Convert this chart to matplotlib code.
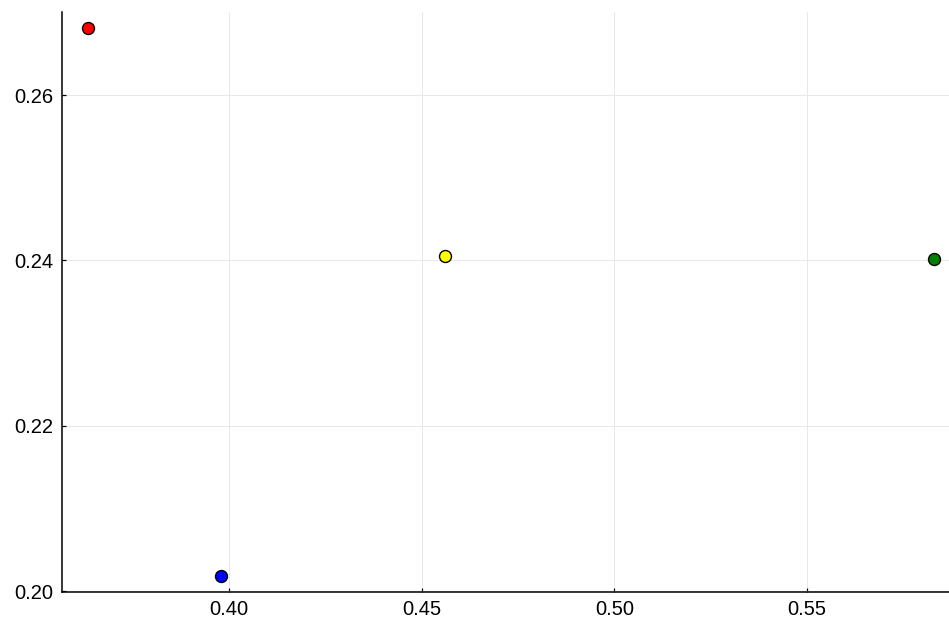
import matplotlib
matplotlib.use('Agg')
import matplotlib.pyplot as plt

# four points, one colour each
xs = [0.3633, 0.398, 0.456, 0.583]
ys = [0.2681, 0.2018, 0.2405, 0.2402]
colores = ['red', 'blue', 'yellow', 'green']

xticks = [0.40, 0.45, 0.50, 0.55]
yticks = [0.20, 0.22, 0.24, 0.26]

plt.rcParams['font.family'] = ['Liberation Sans', 'DejaVu Sans']

fig = plt.figure(figsize=(9.49, 6.19), dpi=100)
ax = fig.add_axes([62 / 949, 27 / 619, 1 - 62 / 949, (592 - 12) / 619])

for x, y, c in zip(xs, ys, colores):
    ax.plot([x], [y], 'o', color=c, markersize=8.6, markeredgecolor='black',
            markeredgewidth=1.0, zorder=3, clip_on=False)

ax.set_xlim(0.35667, 0.5868)
ax.set_ylim(0.19988, 0.27006)
ax.set_xticks(xticks)
ax.set_xticklabels(['%.2f' % t for t in xticks])
ax.set_yticks(yticks)
ax.set_yticklabels(['%.2f' % t for t in yticks])

ax.grid(True, color='#e8e8e8', linewidth=0.7, zorder=0)
ax.set_axisbelow(True)
for lado in ['top', 'right']:
    ax.spines[lado].set_visible(False)
for lado in ['left', 'bottom']:
    ax.spines[lado].set_linewidth(1.1)
ax.tick_params(direction='in', length=3, width=0.9, labelsize=14.5, pad=6.5)
ax.tick_params(axis='x', pad=5.5)

plt.savefig('out.png', dpi=100)
